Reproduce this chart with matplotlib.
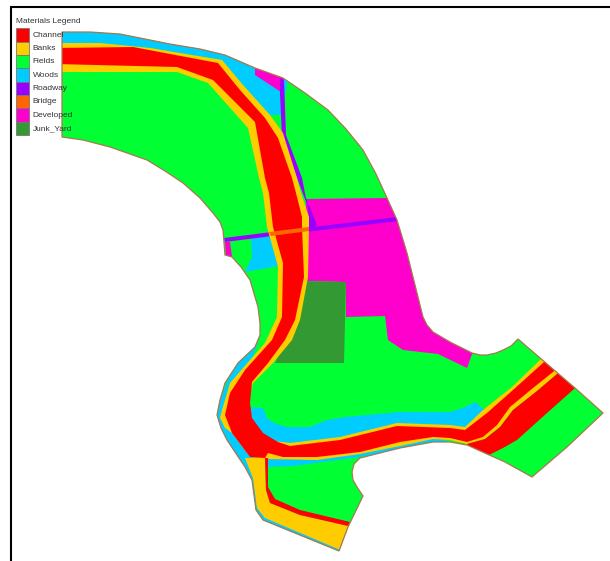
import matplotlib
matplotlib.use("Agg")
import matplotlib.pyplot as plt
from matplotlib.patches import Polygon, Rectangle

plt.rcParams["font.family"] = ["Liberation Sans", "DejaVu Sans"]

legend_labels = ["Channel", "Banks", "Fields", "Woods", "Roadway", "Bridge", "Developed", "Junk_Yard"]
legend_colors = ["#ff0000", "#ffcc00", "#00ff33", "#00ccff", "#9900ff", "#ff6600", "#ff00cc", "#339933"]

# map regions in pixel units
boundary = [(62, 32), (90, 32), (120, 34), (145, 39), (170, 44), (200, 49), (225, 55), (255, 68), (283, 78),
            (305, 93), (328, 110), (346, 129), (363, 150), (376, 174), (387, 198), (397, 220), (407, 253),
            (415, 285), (423, 317), (427, 325), (433, 332), (450, 342), (472, 353), (480, 355), (487, 355),
            (496, 353), (503, 350), (511, 346), (518, 339), (575, 388), (603, 413), (567, 447), (532, 477),
            (505, 462), (487, 454), (467, 445), (450, 442), (433, 442), (400, 448), (360, 458), (354, 464),
            (352, 472), (353, 480), (357, 487), (363, 496), (348, 527), (339, 551), (263, 520), (256, 510),
            (252, 480), (245, 467), (227, 440), (221, 428), (217, 415), (220, 400), (225, 383), (238, 363),
            (255, 347), (260, 335), (260, 323), (258, 307), (250, 280), (241, 267), (232, 257), (225, 255),
            (223, 230), (220, 222), (213, 213), (200, 198), (183, 183), (165, 171), (147, 160), (110, 147),
            (83, 140), (62, 137)]

woods_top = [(55, 25), (230, 40), (290, 70), (281, 115), (275, 115), (270, 115), (243, 85), (222, 60),
             (150, 48), (100, 43), (55, 43)]
woods_mid = [(251, 238), (270, 236), (278, 266), (245, 272), (252, 257)]
woods_low = [(250, 407), (263, 408), (267, 418), (274, 423), (287, 427), (310, 427), (327, 420), (345, 417),
             (400, 412), (450, 412), (463, 408), (475, 402), (485, 410), (465, 430), (400, 426),
             (340, 440), (290, 446), (260, 437), (248, 420)]
woods_left = [(258, 343), (235, 362), (213, 418), (235, 458), (248, 480), (252, 512), (260, 523),
              (340, 555), (345, 540), (300, 522), (262, 500), (255, 460), (235, 420), (240, 390)]
woods_bottom = [(268, 457), (268, 467), (293, 466), (353, 458), (400, 450), (433, 444), (468, 447),
                (433, 437), (360, 452), (317, 458)]

developed_top = [(255, 68), (284, 78), (281, 92), (255, 75)]
developed_main = [(306, 199), (390, 198), (402, 220), (412, 253), (428, 317), (440, 333), (476, 352),
                  (472, 354), (467, 368), (438, 354), (403, 350), (388, 340), (385, 316), (346, 317),
                  (346, 282), (305, 281), (305, 227)]
developed_left = [(225, 242), (230, 242), (232, 257), (226, 256)]

junk_yard = [(300, 281), (346, 282), (344, 363), (275, 363), (295, 320)]

road_north = [(280, 78), (284, 80), (286, 135), (302, 178), (306, 198), (317, 225), (309, 231), (308, 207),
              (297, 178), (282, 137), (280, 93)]
road_east = [(305, 228), (397, 217), (399, 221), (305, 232)]
road_west = [(224, 238), (272, 232), (272, 236), (225, 242)]

banks_main = [(55, 43), (100, 43), (150, 48), (222, 60), (243, 85), (270, 115), (283, 133), (297, 178),
              (301, 193), (309, 217), (309, 227), (308, 277), (300, 320), (292, 340), (273, 363), (253, 383),
              (247, 403), (248, 420), (260, 435), (275, 441), (290, 443), (340, 437), (397, 423), (450, 425),
              (465, 427), (483, 410), (512, 387), (540, 360), (548, 352), (563, 365), (557, 374), (537, 391),
              (513, 410), (500, 427), (485, 439), (467, 444), (450, 440), (433, 439), (400, 446), (360, 454),
              (317, 460), (268, 459), (250, 457), (232, 433), (225, 428), (220, 418), (222, 410), (230, 383),
              (243, 368), (265, 343), (277, 317), (278, 267), (277, 263), (267, 227), (263, 193), (259, 178),
              (248, 128), (208, 83), (177, 72), (55, 72)]
banks_block = [(245, 458), (265, 458), (266, 490), (270, 503), (300, 515), (350, 526), (340, 550),
               (338, 549), (265, 518), (257, 508), (253, 478)]

channel_main = [(55, 48), (133, 47), (218, 63), (240, 90), (265, 118), (278, 138), (292, 178), (296, 193),
                (302, 217), (302, 227), (304, 277), (295, 320), (285, 340), (268, 363), (252, 382), (250, 403),
                (252, 418), (263, 433), (278, 442), (290, 446), (340, 440), (397, 426), (450, 428), (465, 430),
                (487, 413), (513, 390), (543, 363), (550, 356), (560, 365), (553, 372), (533, 388), (510, 407),
                (497, 425), (483, 437), (467, 442), (450, 438), (433, 437), (400, 442), (360, 452), (317, 457),
                (283, 457), (268, 453), (265, 458), (250, 457), (232, 433), (225, 415), (230, 393), (245, 370),
                (272, 340), (282, 317), (283, 263), (273, 227), (269, 193), (265, 178), (255, 122), (213, 80),
                (177, 67), (55, 64)]
channel_east = [(467, 444), (485, 439), (500, 427), (513, 410), (537, 391), (557, 374), (562, 370), (580, 385),
                (574, 389), (547, 413), (517, 440), (503, 448), (487, 456), (470, 447)]
channel_strip = [(265, 458), (268, 458), (268, 487), (275, 499), (300, 510), (350, 522), (348, 526),
                 (300, 515), (270, 503), (266, 490)]

bridge = [(269, 232), (309, 227), (309, 231), (271, 236)]

# drawing order, later layers cover earlier ones
layers = [
    (woods_top, "#00ccff"), (woods_mid, "#00ccff"), (woods_low, "#00ccff"),
    (woods_left, "#00ccff"), (woods_bottom, "#00ccff"),
    (developed_top, "#ff00cc"), (developed_main, "#ff00cc"), (developed_left, "#ff00cc"),
    (junk_yard, "#339933"),
    (road_north, "#9900ff"), (road_east, "#9900ff"), (road_west, "#9900ff"),
    (banks_main, "#ffcc00"), (banks_block, "#ffcc00"),
    (channel_main, "#ff0000"), (channel_east, "#ff0000"), (channel_strip, "#ff0000"),
    (bridge, "#ff6600"),
]

fig = plt.figure(figsize=(6.1, 5.61), dpi=100)
ax = fig.add_axes([0, 0, 1, 1])
ax.set_xlim(0, 610)
ax.set_ylim(561, 0)
ax.axis("off")

# page frame
ax.plot([11, 11, 610], [561, 7, 7], color="black", lw=1.5, solid_joinstyle="miter")

fields = Polygon(boundary, closed=True, facecolor="#00ff33", edgecolor="none", zorder=2)
ax.add_patch(fields)
for pts, col in layers:
    p = Polygon(pts, closed=True, facecolor=col, edgecolor="none", zorder=3)
    ax.add_patch(p)
    p.set_clip_path(fields)
ax.add_patch(Polygon(boundary, closed=True, fill=False, edgecolor="#a87850", lw=0.9, zorder=4))

# legend
ax.text(16, 21, "Materials Legend", fontsize=6, color="#333333", va="center", ha="left", zorder=5)
for i, (lab, col) in enumerate(zip(legend_labels, legend_colors)):
    y = 28.3 + i * 13.35
    ax.add_patch(Rectangle((16, y), 13, 13.35, facecolor=col, edgecolor="#777777", lw=0.6, zorder=5))
    ax.text(32.5, y + 6.7, lab, fontsize=6, color="#333333", va="center", ha="left", zorder=5)

fig.savefig("out.png", dpi=100)
plt.close(fig)
